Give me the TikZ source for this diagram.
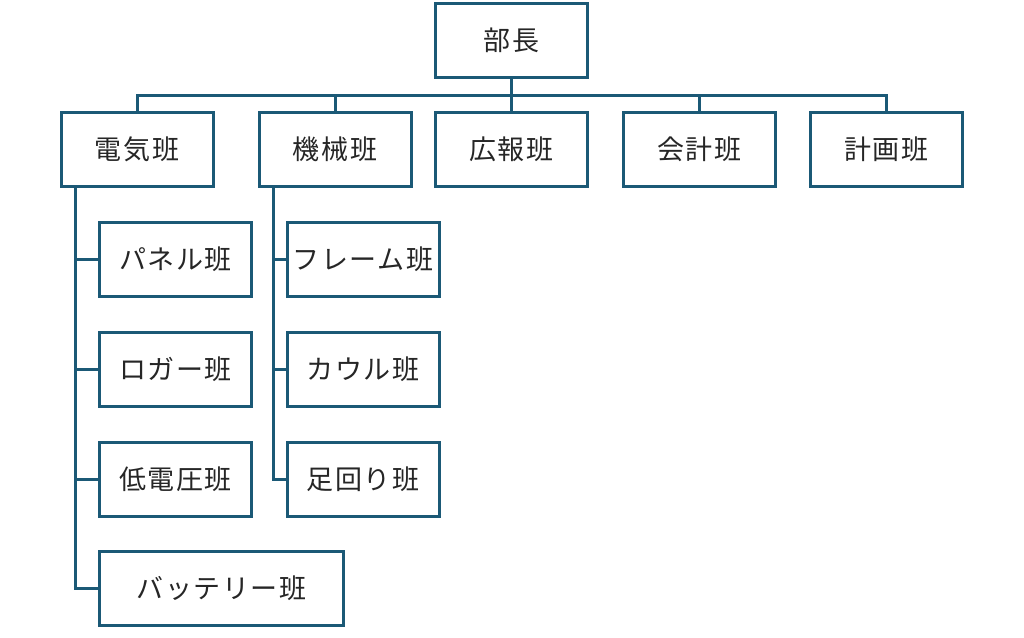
\documentclass[tikz,border=0pt]{standalone}
\usepackage{fontspec}
\newfontfamily\jp[LetterSpace=6]{Noto Sans CJK JP}
\definecolor{ln}{RGB}{27,89,118}
\definecolor{tx}{RGB}{38,38,38}
\begin{document}
\begin{tikzpicture}[x=1pt,y=-1pt,
  box/.style={draw=ln,line width=3pt,fill=white,minimum width=152pt,minimum height=74pt,inner sep=0pt,
    font=\jp\fontsize{27}{27}\selectfont,text=tx},
  conn/.style={draw=ln,line width=3pt}]
\useasboundingbox (0,0) rectangle (1024,637);
\node[box] (boss) at (511.5,40) {部長};
\node[box] (e) at (137,149.5) {電気班};
\node[box] (m) at (335,149.5) {機械班};
\node[box] (pr) at (511.5,149.5) {広報班};
\node[box] (ac) at (699.5,149.5) {会計班};
\node[box] (pl) at (886.5,149.5) {計画班};
\node[box] (pan) at (175.5,259.5) {パネル班};
\node[box] (log) at (175.5,369) {ロガー班};
\node[box] (low) at (175.5,479) {低電圧班};
\node[box,minimum width=244pt] (bat) at (221.5,588.5) {バッテリー班};
\node[box] (fr) at (363,259.5) {フレーム班};
\node[box] (cw) at (363,369) {カウル班};
\node[box] (ash) at (363,479) {足回り班};
\coordinate (bus) at (511.5,95);
\coordinate (et) at ([xshift=16pt]e.south west);
\coordinate (mt) at ([xshift=16pt]m.south west);
\draw[conn] (boss.south) -- (pr.north);
\draw[conn] (e.north) |- (bus) -| (pl.north);
\draw[conn] (m.north) -- (m.north |- bus);
\draw[conn] (ac.north) -- (ac.north |- bus);
\draw[conn] (et) |- (bat.west);
\draw[conn] (et |- pan.west) -- (pan.west);
\draw[conn] (et |- log.west) -- (log.west);
\draw[conn] (et |- low.west) -- (low.west);
\draw[conn] (mt) |- (ash.west);
\draw[conn] (mt |- fr.west) -- (fr.west);
\draw[conn] (mt |- cw.west) -- (cw.west);
\end{tikzpicture}
\end{document}
